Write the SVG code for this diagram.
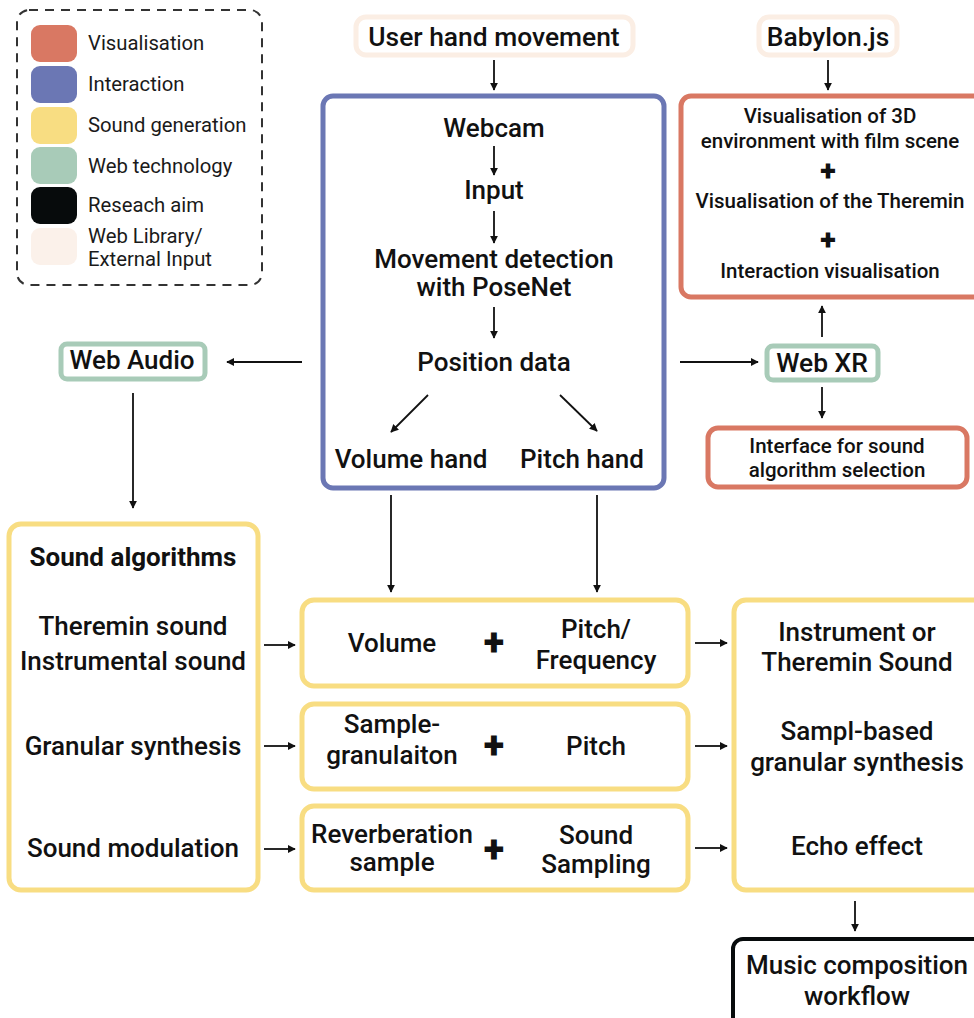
<svg xmlns="http://www.w3.org/2000/svg" width="974" height="1018" viewBox="0 0 974 1018">
<style>
text{font-family:Roboto,"Liberation Sans",sans-serif;fill:#111;text-anchor:middle;font-weight:500}
.lg{text-anchor:start;font-weight:400;font-size:20.3px;fill:#1a1a1a}
.t22{font-size:26px}
.t24{font-size:26.4px}
.t18{font-size:20.5px}
.plus{font-size:38px;font-weight:900}
.plus-s{font-size:29px;font-weight:900}
.box{fill:#fff;stroke-width:5}
.vis{stroke:#d97863}
.int{stroke:#6b77b4}
.snd{stroke:#f8dd82}
.web{stroke:#a8cbb8}
.lib{stroke:#fbeee4}
.aim{stroke:#070b0c;stroke-width:4}
.c{stroke:#111;stroke-width:1.8;fill:none;marker-end:url(#ah)}
</style>
<defs>
<marker id="ah" viewBox="0 0 10 10" refX="9" refY="5" markerWidth="8" markerHeight="8" markerUnits="userSpaceOnUse" orient="auto">
<path d="M0,0 L10,5 L0,10 z" fill="#111"/>
</marker>
</defs>
<rect width="974" height="1018" fill="#fff"/>
<g id="legend">
<rect x="17" y="10" width="245" height="275" rx="12" fill="none" stroke="#333" stroke-width="2" stroke-dasharray="9,7"/>
<rect x="31" y="25" width="46" height="37" rx="9" fill="#d97863"/>
<rect x="31" y="66" width="46" height="37" rx="9" fill="#6b77b4"/>
<rect x="31" y="107" width="46" height="37" rx="9" fill="#f8dd82"/>
<rect x="31" y="147" width="46" height="37" rx="9" fill="#a8cbb8"/>
<rect x="31" y="187" width="46" height="37" rx="9" fill="#070b0c"/>
<rect x="31" y="228" width="46" height="37" rx="9" fill="#fbf1ea"/>
<text class="lg" x="88" y="50">Visualisation</text>
<text class="lg" x="88" y="91">Interaction</text>
<text class="lg" x="88" y="132">Sound generation</text>
<text class="lg" x="88" y="173">Web technology</text>
<text class="lg" x="88" y="212">Reseach aim</text>
<text class="lg" x="88" y="243">Web Library/</text>
<text class="lg" x="88" y="266">External Input</text>
</g>
<g id="user-hand">
<rect class="box lib" x="356" y="17" width="277" height="38" rx="10" stroke-width="4"/>
<text class="t24" x="494" y="46">User hand movement</text>
</g>
<g id="babylon">
<rect class="box lib" x="759" y="17" width="138" height="38" rx="10" stroke-width="4"/>
<text class="t24" x="828" y="46">Babylon.js</text>
</g>
<g id="interaction">
<rect class="box int" x="323" y="96" width="341" height="392" rx="10"/>
<text class="t22" x="494" y="137">Webcam</text>
<text class="t22" x="494" y="199">Input</text>
<text class="t22" x="494" y="268">Movement detection</text>
<text class="t22" x="494" y="296">with PoseNet</text>
<text class="t22" x="494" y="371">Position data</text>
<text class="t22" x="411" y="468">Volume hand</text>
<text class="t22" x="582" y="468">Pitch hand</text>
</g>
<g id="visualisation">
<rect class="box vis" x="681" y="96" width="310" height="201" rx="10"/>
<text class="t18" x="830" y="123">Visualisation of 3D</text>
<text class="t18" x="830" y="148">environment with film scene</text>
<text class="plus-s" x="828" y="181">+</text>
<text class="t18" x="830" y="208">Visualisation of the Theremin</text>
<text class="plus-s" x="828" y="250">+</text>
<text class="t18" x="830" y="278">Interaction visualisation</text>
</g>
<g id="webxr">
<rect class="box web" x="767" y="346" width="111" height="34" rx="6"/>
<text class="t24" x="822" y="372">Web XR</text>
</g>
<g id="interface">
<rect class="box vis" x="708" y="428" width="259" height="59" rx="10"/>
<text class="t18" x="837" y="453">Interface for sound</text>
<text class="t18" x="837" y="477">algorithm selection</text>
</g>
<g id="webaudio">
<rect class="box web" x="61" y="344" width="144" height="35" rx="6"/>
<text class="t22" x="132" y="369">Web Audio</text>
</g>
<g id="sound-algorithms">
<rect class="box snd" x="9" y="524" width="249" height="366" rx="12"/>
<text class="t22" x="133" y="566" style="font-weight:700">Sound algorithms</text>
<text class="t22" x="133" y="635">Theremin sound</text>
<text class="t22" x="133" y="670">Instrumental sound</text>
<text class="t22" x="133" y="755">Granular synthesis</text>
<text class="t22" x="133" y="857">Sound modulation</text>
</g>
<g id="volume-pitch">
<rect class="box snd" x="302" y="600" width="386" height="86" rx="12"/>
<text class="t22" x="392" y="652">Volume</text>
<text class="plus" x="494" y="655">+</text>
<text class="t22" x="596" y="638">Pitch/</text>
<text class="t22" x="596" y="669">Frequency</text>
</g>
<g id="granulation-pitch">
<rect class="box snd" x="302" y="704" width="386" height="85" rx="12"/>
<text class="t22" x="392" y="733">Sample-</text>
<text class="t22" x="392" y="764">granulaiton</text>
<text class="plus" x="494" y="758">+</text>
<text class="t22" x="596" y="755">Pitch</text>
</g>
<g id="reverb-sampling">
<rect class="box snd" x="302" y="806" width="386" height="84" rx="12"/>
<text class="t22" x="392" y="843">Reverberation</text>
<text class="t22" x="392" y="871">sample</text>
<text class="plus" x="494" y="862">+</text>
<text class="t22" x="596" y="844">Sound</text>
<text class="t22" x="596" y="873">Sampling</text>
</g>
<g id="output">
<rect class="box snd" x="734" y="600" width="260" height="290" rx="12"/>
<text class="t22" x="857" y="641">Instrument or</text>
<text class="t22" x="857" y="671">Theremin Sound</text>
<text class="t22" x="857" y="740">Sampl-based</text>
<text class="t22" x="857" y="771">granular synthesis</text>
<text class="t22" x="857" y="855">Echo effect</text>
</g>
<g id="music">
<rect class="box aim" x="733" y="939" width="260" height="90" rx="10"/>
<text class="t22" x="857" y="974">Music composition</text>
<text class="t22" x="857" y="1005">workflow</text>
</g>
<g id="connectors">
<line class="c" x1="494" y1="60" x2="494" y2="90"/>
<line class="c" x1="828" y1="60" x2="828" y2="90"/>
<line class="c" x1="494" y1="146" x2="494" y2="175"/>
<line class="c" x1="494" y1="211" x2="494" y2="243"/>
<line class="c" x1="494" y1="307" x2="494" y2="338"/>
<line class="c" x1="428" y1="395" x2="391" y2="432"/>
<line class="c" x1="560" y1="395" x2="597" y2="431"/>
<line class="c" x1="302" y1="362" x2="227" y2="362"/>
<line class="c" x1="680" y1="362" x2="758" y2="362"/>
<line class="c" x1="822" y1="337" x2="822" y2="306"/>
<line class="c" x1="822" y1="387" x2="822" y2="418"/>
<line class="c" x1="133" y1="393" x2="133" y2="508"/>
<line class="c" x1="391" y1="495" x2="391" y2="592"/>
<line class="c" x1="597" y1="495" x2="597" y2="592"/>
<line class="c" x1="264" y1="645" x2="295" y2="645"/>
<line class="c" x1="264" y1="746" x2="295" y2="746"/>
<line class="c" x1="264" y1="849" x2="295" y2="849"/>
<line class="c" x1="695" y1="643" x2="727" y2="643"/>
<line class="c" x1="695" y1="746" x2="727" y2="746"/>
<line class="c" x1="695" y1="848" x2="727" y2="848"/>
<line class="c" x1="855" y1="901" x2="855" y2="931"/>
</g>
</svg>
